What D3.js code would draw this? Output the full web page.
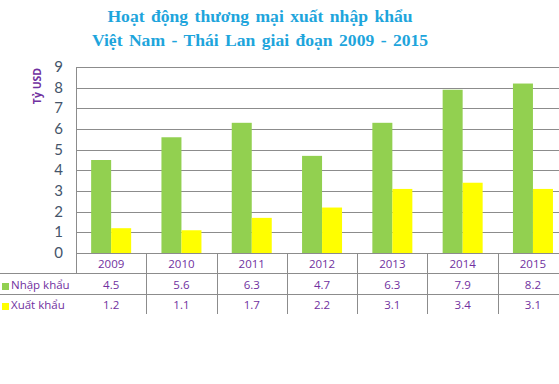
<!DOCTYPE html>
<html>
<head>
<meta charset="utf-8">
<script src="https://cdn.jsdelivr.net/npm/d3@7"></script>
<style>
  body { margin: 0; background: #fff; }
  svg { display: block; }
</style>
</head>
<body>
<div id="chart"></div>
<script>
// data
const years = ["2009", "2010", "2011", "2012", "2013", "2014", "2015"];
const importVals = [4.5, 5.6, 6.3, 4.7, 6.3, 7.9, 8.2];   // Nhập khẩu
const exportVals = [1.2, 1.1, 1.7, 2.2, 3.1, 3.4, 3.1];   // Xuất khẩu
const seriesNames = ["Nhập khẩu", "Xuất khẩu"];
const yTicks = [0, 1, 2, 3, 4, 5, 6, 7, 8, 9];

const W = 559, H = 384;
const colors = ["#92d050", "#ffff00"];
const gridColor = "#8c8c8c";
const purple = "#7030a0";

const svg = d3.select("#chart")
    .append("svg")
    .attr("width", W)
    .attr("height", H);

// title
const title = svg.append("text")
    .attr("text-anchor", "middle")
    .attr("font-family", "'Liberation Serif', 'Times New Roman', serif")
    .attr("font-weight", "bold")
    .attr("font-size", 17.6)
    .attr("fill", "#1ea5dc")
    .style("word-spacing", "2px");
title.append("tspan").attr("x", 260).attr("y", 22).text("Hoạt động thương mại xuất nhập  khẩu");
title.append("tspan").attr("x", 260).attr("y", 46).text("Việt Nam - Thái Lan giai đoạn 2009 - 2015");

// scales
const plotLeft = 76, plotTop = 67, plotBottom = 253;
const x = d3.scaleBand()
    .domain(years)
    .range([plotLeft, plotLeft + 7 * 70.3]);
const y = d3.scaleLinear()
    .domain([0, 9])
    .range([plotBottom, plotTop]);
const barW = 20;

// gridlines
svg.append("g")
    .selectAll("line")
    .data(yTicks.filter(d => d > 0))
    .join("line")
    .attr("x1", plotLeft)
    .attr("x2", W)
    .attr("y1", d => Math.round(y(d)) + 0.5)
    .attr("y2", d => Math.round(y(d)) + 0.5)
    .attr("stroke", gridColor)
    .attr("stroke-width", 1);

// left border of plot area
svg.append("line")
    .attr("x1", plotLeft + 0.5).attr("x2", plotLeft + 0.5)
    .attr("y1", Math.round(y(9)) + 0.5).attr("y2", plotBottom)
    .attr("stroke", gridColor);

// y tick labels
svg.append("g")
    .selectAll("text")
    .data(yTicks)
    .join("text")
    .attr("x", 63)
    .attr("y", d => y(d) + 5)
    .attr("text-anchor", "end")
    .attr("font-family", "Lato, 'Open Sans', sans-serif")
    .attr("font-size", 15)
    .attr("fill", "#44546a")
    .text(d => d);

// y axis title
svg.append("text")
    .attr("transform", "translate(41,86) rotate(-90)")
    .attr("text-anchor", "middle")
    .attr("font-family", "'Open Sans', sans-serif")
    .attr("font-weight", "bold")
    .attr("font-size", 10.5)
    .attr("fill", purple)
    .text("Tỷ USD");

// bars
const groups = svg.append("g")
    .selectAll("g")
    .data(years)
    .join("g")
    .attr("transform", d => `translate(${x(d) + x.bandwidth() / 2 - barW},0)`);

groups.append("rect")
    .attr("x", 0)
    .attr("width", barW)
    .attr("y", (d, i) => y(importVals[i]))
    .attr("height", (d, i) => plotBottom - y(importVals[i]))
    .attr("fill", colors[0]);

groups.append("rect")
    .attr("x", barW)
    .attr("width", barW)
    .attr("y", (d, i) => y(exportVals[i]))
    .attr("height", (d, i) => plotBottom - y(exportVals[i]))
    .attr("fill", colors[1]);

// data table
const rowTop = [253, 273, 294, 314];
const table = svg.append("g");

table.append("line")
    .attr("x1", plotLeft).attr("x2", W)
    .attr("y1", rowTop[0] + 0.5).attr("y2", rowTop[0] + 0.5)
    .attr("stroke", gridColor);
[rowTop[1], rowTop[2]].forEach(r => {
    table.append("line")
        .attr("x1", 0).attr("x2", W)
        .attr("y1", r + 0.5).attr("y2", r + 0.5)
        .attr("stroke", gridColor);
});

// vertical separators
table.append("line")
    .attr("x1", plotLeft + 0.5).attr("x2", plotLeft + 0.5)
    .attr("y1", rowTop[0]).attr("y2", rowTop[1])
    .attr("stroke", gridColor);
table.selectAll("line.sep")
    .data(years.slice(1))
    .join("line")
    .attr("class", "sep")
    .attr("x1", d => Math.round(x(d)) + 0.5)
    .attr("x2", d => Math.round(x(d)) + 0.5)
    .attr("y1", rowTop[0])
    .attr("y2", rowTop[3])
    .attr("stroke", gridColor);

const cellFont = "'Open Sans', sans-serif";
const cellSize = 11.5;
table.selectAll("text.yr")
    .data(years)
    .join("text")
    .attr("class", "yr")
    .attr("x", d => x(d) + x.bandwidth() / 2)
    .attr("y", 268)
    .attr("text-anchor", "middle")
    .attr("font-family", cellFont)
    .attr("font-size", cellSize)
    .attr("fill", purple)
    .text(d => d);

[importVals, exportVals].forEach((vals, k) => {
    const base = k === 0 ? 289 : 309;
    table.selectAll("text.v" + k)
        .data(vals)
        .join("text")
        .attr("class", "v" + k)
        .attr("x", (d, i) => x(years[i]) + x.bandwidth() / 2)
        .attr("y", base)
        .attr("text-anchor", "middle")
        .attr("font-family", cellFont)
        .attr("font-size", cellSize)
        .attr("fill", purple)
        .text(d => d.toFixed(1));

    table.append("rect")
        .attr("x", 2)
        .attr("y", base - 6)
        .attr("width", 7)
        .attr("height", 7)
        .attr("fill", colors[k]);
    table.append("text")
        .attr("x", 11)
        .attr("y", base)
        .attr("font-family", cellFont)
        .attr("font-size", cellSize)
        .attr("fill", purple)
        .text(seriesNames[k]);
});
</script>
</body>
</html>
